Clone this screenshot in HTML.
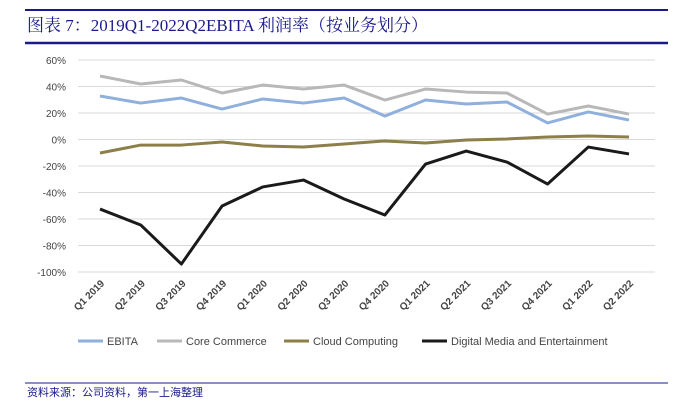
<!DOCTYPE html>
<html><head><meta charset="utf-8"><style>
body{margin:0;background:#fff;width:687px;height:414px;overflow:hidden;font-family:"Liberation Sans","Noto Sans CJK SC",sans-serif}
</style></head><body>
<svg width="687" height="414" id="svg" xmlns="http://www.w3.org/2000/svg">
<line x1="25" y1="10" x2="668" y2="10" stroke="#1a1a8c" stroke-width="2"/>
<text x="27" y="31" font-size="17" fill="#1a1a8c" font-family="'Liberation Serif','Noto Serif CJK SC',serif">图表 7：2019Q1-2022Q2EBITA 利润率（按业务划分）</text>
<line x1="25" y1="43" x2="668" y2="43" stroke="#1a1a8c" stroke-width="2.5"/>
<g id="grid"></g><g id="series"></g><g id="xl"></g>
<g font-size="11" fill="#444">
<line x1="78" y1="341" x2="103" y2="341" stroke="#8fb0dc" stroke-width="3"/><text x="107" y="345">EBITA</text>
<line x1="157" y1="341" x2="182" y2="341" stroke="#b8b8b8" stroke-width="3"/><text x="186" y="345">Core Commerce</text>
<line x1="284" y1="341" x2="309" y2="341" stroke="#8c7f4a" stroke-width="3"/><text x="313" y="345">Cloud Computing</text>
<line x1="422" y1="341" x2="447" y2="341" stroke="#1a1a1a" stroke-width="3"/><text x="451" y="345">Digital Media and Entertainment</text>
</g>
<line x1="25" y1="383" x2="668" y2="383" stroke="#1a1a8c" stroke-width="1"/>
<text x="27" y="396" font-size="11" fill="#1a1a8c">资料来源：公司资料，第一上海整理</text>
</svg>
<script>
const categories=["Q1 2019","Q2 2019","Q3 2019","Q4 2019","Q1 2020","Q2 2020","Q3 2020","Q4 2020","Q1 2021","Q2 2021","Q3 2021","Q4 2021","Q1 2022","Q2 2022"];
const ebita=[32.8,27.5,31.3,23,30.6,27.5,31.3,17.7,29.8,26.8,28.3,12.5,20.8,14.7];
const coreCommerce=[47.9,41.9,44.9,35.1,41.1,38.1,41.1,29.8,38.1,35.8,35.1,19.2,25.3,19.2];
const cloudComputing=[-10.2,-4.2,-4.2,-1.9,-4.9,-5.7,-3.4,-1.1,-2.6,-0.4,0.4,1.9,2.6,1.9];
const digitalMedia=[-52.5,-64.5,-94,-50.2,-35.8,-30.6,-44.9,-57,-18.5,-8.7,-17,-33.6,-5.7,-10.9];
const yTicks=[60,40,20,0,-20,-40,-60,-80,-100];
const NS="http://www.w3.org/2000/svg";
const y=v=>139.5-v*212/160;
const x=i=>100+i*(529/13);
function mk(t,a,p){const e=document.createElementNS(NS,t);for(const k in a)e.setAttribute(k,a[k]);document.getElementById(p).appendChild(e);return e;}
yTicks.forEach(v=>{
 const l=mk('line',{x1:78,x2:655,y1:y(v),y2:y(v),stroke:'#d9d9d9','stroke-width':1},'grid');
 
 
 const t=mk('text',{x:66,y:y(v)+4,'text-anchor':'end','font-size':10,fill:'#444'},'grid');t.textContent=v+'%';
 
 
});
categories.forEach((c,i)=>{
 const t=mk('text',{transform:`translate(${x(i)+5},${284}) rotate(-45)`,'text-anchor':'end','font-size':10,'font-weight':'bold',fill:'#444'},'xl');t.textContent=c;
 
 
});
[[ebita,'#8fb0dc','ebita-line'],[coreCommerce,'#b8b8b8','core-commerce-line'],[cloudComputing,'#8c7f4a','cloud-computing-line'],[digitalMedia,'#1a1a1a','digital-media-line']].forEach(([d,c,n])=>{
 const p=mk('polyline',{points:d.map((v,i)=>x(i)+','+y(v)).join(' '),fill:'none',stroke:c,'stroke-width':3,'stroke-linejoin':'round'},'series');
 
 
});
</script>
</body></html>
